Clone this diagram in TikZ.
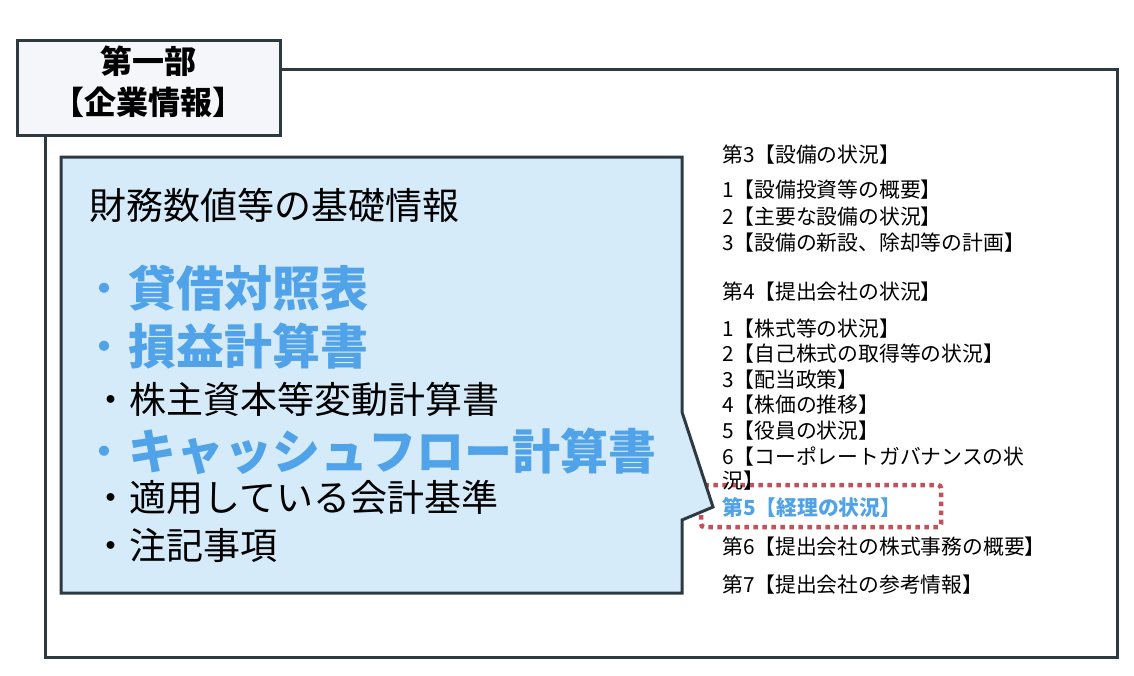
\documentclass[tikz,border=0pt]{standalone}
\usepackage{fontspec}
\setmainfont{Noto Sans CJK JP}
\usepackage{xcolor}
\usepackage{tikz}
\usetikzlibrary{positioning}

\definecolor{framegray}{RGB}{45,58,66}
\definecolor{labelfill}{RGB}{245,246,250}
\definecolor{calloutfill}{RGB}{214,235,250}
\definecolor{accentblue}{RGB}{80,163,232}
\definecolor{markred}{RGB}{196,80,90}

\newcommand{\dotbullet}{{\mdseries ・}}

\begin{document}
\begin{tikzpicture}[
  x=1pt, y=-1pt,
  every node/.style={inner sep=0pt, anchor=west},
  frame/.style={draw=framegray, line width=3pt},
  heading/.style={font=\fontsize{37}{40}\selectfont},
  keyitem/.style={font=\fontsize{48}{50}\selectfont\bfseries, text=accentblue},
  item/.style={font=\fontsize{37}{40}\selectfont},
  toc/.style={font=\fontsize{20.8}{24}\selectfont},
  tochl/.style={font=\fontsize{20.8}{24}\selectfont\bfseries, text=accentblue},
  highlight/.style={draw=markred, line width=4.5pt, dash pattern=on 4.5pt off 4.5pt,
    rounded corners=3pt},
]
\useasboundingbox (0,0) rectangle (1134,675);

% ========= Outer frame + part label =========
\draw[frame] (45,69) rectangle (1117,657);
\draw[frame, fill=labelfill] (17,40) rectangle (280,135);
\node[anchor=center, align=center, font=\fontsize{32}{41}\selectfont\bfseries]
  (part) at (148,82) {第一部\\【企業情報】};

% ========= Highlight round the accounting section =========
\draw[highlight] (701,485) rectangle (941,527);

% ========= Callout with the statements =========
\draw[frame, fill=calloutfill, line join=miter]
  (61,157) -- (682,157) -- (682,412) -- (713,507) -- (682,520)
  -- (682,593) -- (61,593) -- cycle;

\node[heading] (title) at (89,205) {財務数値等の基礎情報};
\node[keyitem] (bs) at (80,288) {\dotbullet 貸借対照表};
\node[keyitem] (pl) at (80,346) {\dotbullet 損益計算書};
\node[item] (ss) at (92,399) {・株主資本等変動計算書};
\node[keyitem] (cf) at (80,451) {\dotbullet キャッシュフロー計算書};
\node[item] (policy) at (92,497) {・適用している会計基準};
\node[item] (notes) at (92,545) {・注記事項};

% ========= Table of contents (right) =========
\node[toc] (sec3) at (722,155) {第3【設備の状況】};
\node[toc] (sec3a) at (722,190) {1【設備投資等の概要】};
\node[toc] (sec3b) at (722,217) {2【主要な設備の状況】};
\node[toc] (sec3c) at (722,243) {3【設備の新設、除却等の計画】};

\node[toc] (sec4) at (722,292) {第4【提出会社の状況】};
\node[toc] (sec4a) at (722,329) {1【株式等の状況】};
\node[toc] (sec4b) at (722,354) {2【自己株式の取得等の状況】};
\node[toc] (sec4c) at (722,380) {3【配当政策】};
\node[toc] (sec4d) at (722,405) {4【株価の推移】};
\node[toc] (sec4e) at (722,431) {5【役員の状況】};
\node[toc] (sec4f) at (722,457) {6【コーポレートガバナンスの状};
\node[toc] (sec4g) at (722,481) {況】};

\node[tochl] (sec5) at (722,508) {第5【経理の状況】};
\node[toc] (sec6) at (722,547) {第6【提出会社の株式事務の概要】};
\node[toc] (sec7) at (722,585) {第7【提出会社の参考情報】};

\end{tikzpicture}
\end{document}
